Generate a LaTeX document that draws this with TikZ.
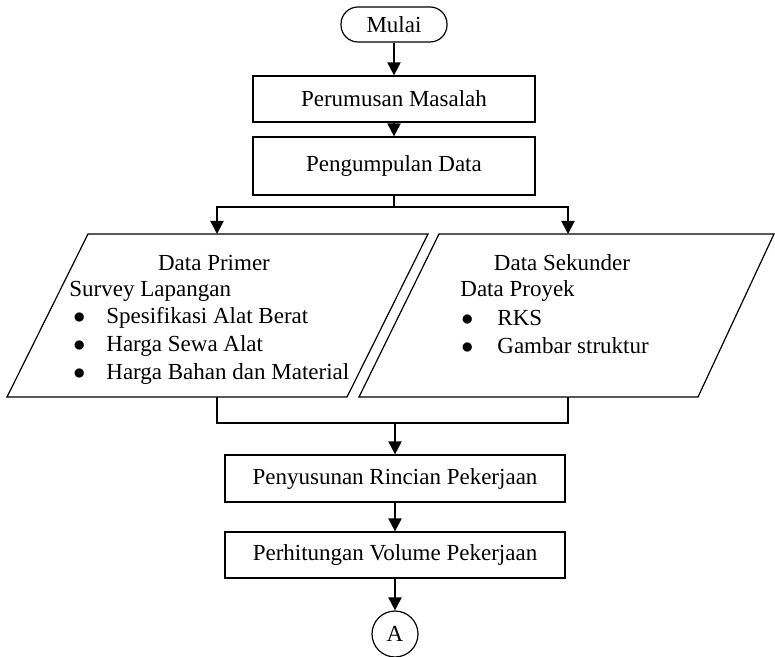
\documentclass[tikz,border=0pt]{standalone}
\usepackage{fontspec}
\setmainfont{Liberation Serif}
\usepackage{tikz}
\usetikzlibrary{arrows.meta}

\newcommand{\itm}[2][16.5pt]{\makebox[#1][l]{$\bullet$}#2}

\begin{document}
\begin{tikzpicture}[x=0.5pt,y=-0.5pt,
  box/.style={draw,line width=0.6pt,minimum width=141pt,minimum height=23pt,inner sep=0pt},
  io/.style={line width=0.6pt},
  txt/.style={inner sep=0pt},
  flow/.style={line width=1pt,-{Triangle[length=6.5pt,width=6.5pt]}},
  link/.style={line width=1pt}]
\fontsize{11.5}{13.75}\selectfont
\useasboundingbox (0,0) rectangle (775,657);

  \node[draw,line width=0.6pt,rounded corners=8.5pt,minimum width=53pt,minimum height=17.5pt,inner sep=0pt] (mulai) at (394,24.5) {Mulai};
  \node[box] (rumus) at (394,99) {Perumusan Masalah};
  \node[box,minimum height=29pt] (kumpul) at (394,166) {Pengumpulan Data};

  % jajaran genjang data
  \draw[io] (88,234) -- (428,234) -- (347,397) -- (7,397) -- cycle;
  \draw[io] (439,234) -- (774,234) -- (698,397) -- (359,397) -- cycle;
  \coordinate (primer) at (217,234);
  \coordinate (primerB) at (217,397);
  \coordinate (sekunder) at (568,234);
  \coordinate (sekunderB) at (568,397);

  % isi data primer
  \node[txt] (tp0) at (214,263) {Data Primer};
  \node[txt,anchor=west] (tp1) at (69,291) {Survey Lapangan};
  \node[txt,anchor=west] (tp2) at (73,318) {\itm{Spesifikasi Alat Berat}};
  \node[txt,anchor=west] (tp3) at (73,346) {\itm{Harga Sewa Alat}};
  \node[txt,anchor=west] (tp4) at (73,374) {\itm{Harga Bahan dan Material}};

  % isi data sekunder
  \node[txt] (ts0) at (562,263) {Data Sekunder};
  \node[txt,anchor=west] (ts1) at (460,291) {Data Proyek};
  \node[txt,anchor=west] (ts2) at (461,318) {\itm[18pt]{RKS}};
  \node[txt,anchor=west] (ts3) at (461,346) {\itm[18pt]{Gambar struktur}};

  \node[box,minimum width=170pt,minimum height=23.5pt] (rinci) at (395,478.5) {Penyusunan Rincian Pekerjaan};
  \node[box,minimum width=170pt] (hitung) at (395,555) {Perhitungan Volume Pekerjaan};
  \node[draw,line width=0.6pt,circle,minimum size=23pt,inner sep=0pt] (A) at (395,634) {A};

  \coordinate (pisah) at (394,207);
  \coordinate (gabung) at (395,423);

  \draw[flow] (mulai) -- (rumus);
  \draw[flow] (rumus) -- (kumpul);
  \draw[link] (kumpul) -- (pisah);
  \draw[flow] (pisah) -| (primer);
  \draw[flow] (pisah) -| (sekunder);
  \draw[link] (primerB) |- (gabung) -| (sekunderB);
  \draw[flow] (gabung) -- (rinci);
  \draw[flow] (rinci) -- (hitung);
  \draw[flow] (hitung) -- (A);
\end{tikzpicture}
\end{document}
